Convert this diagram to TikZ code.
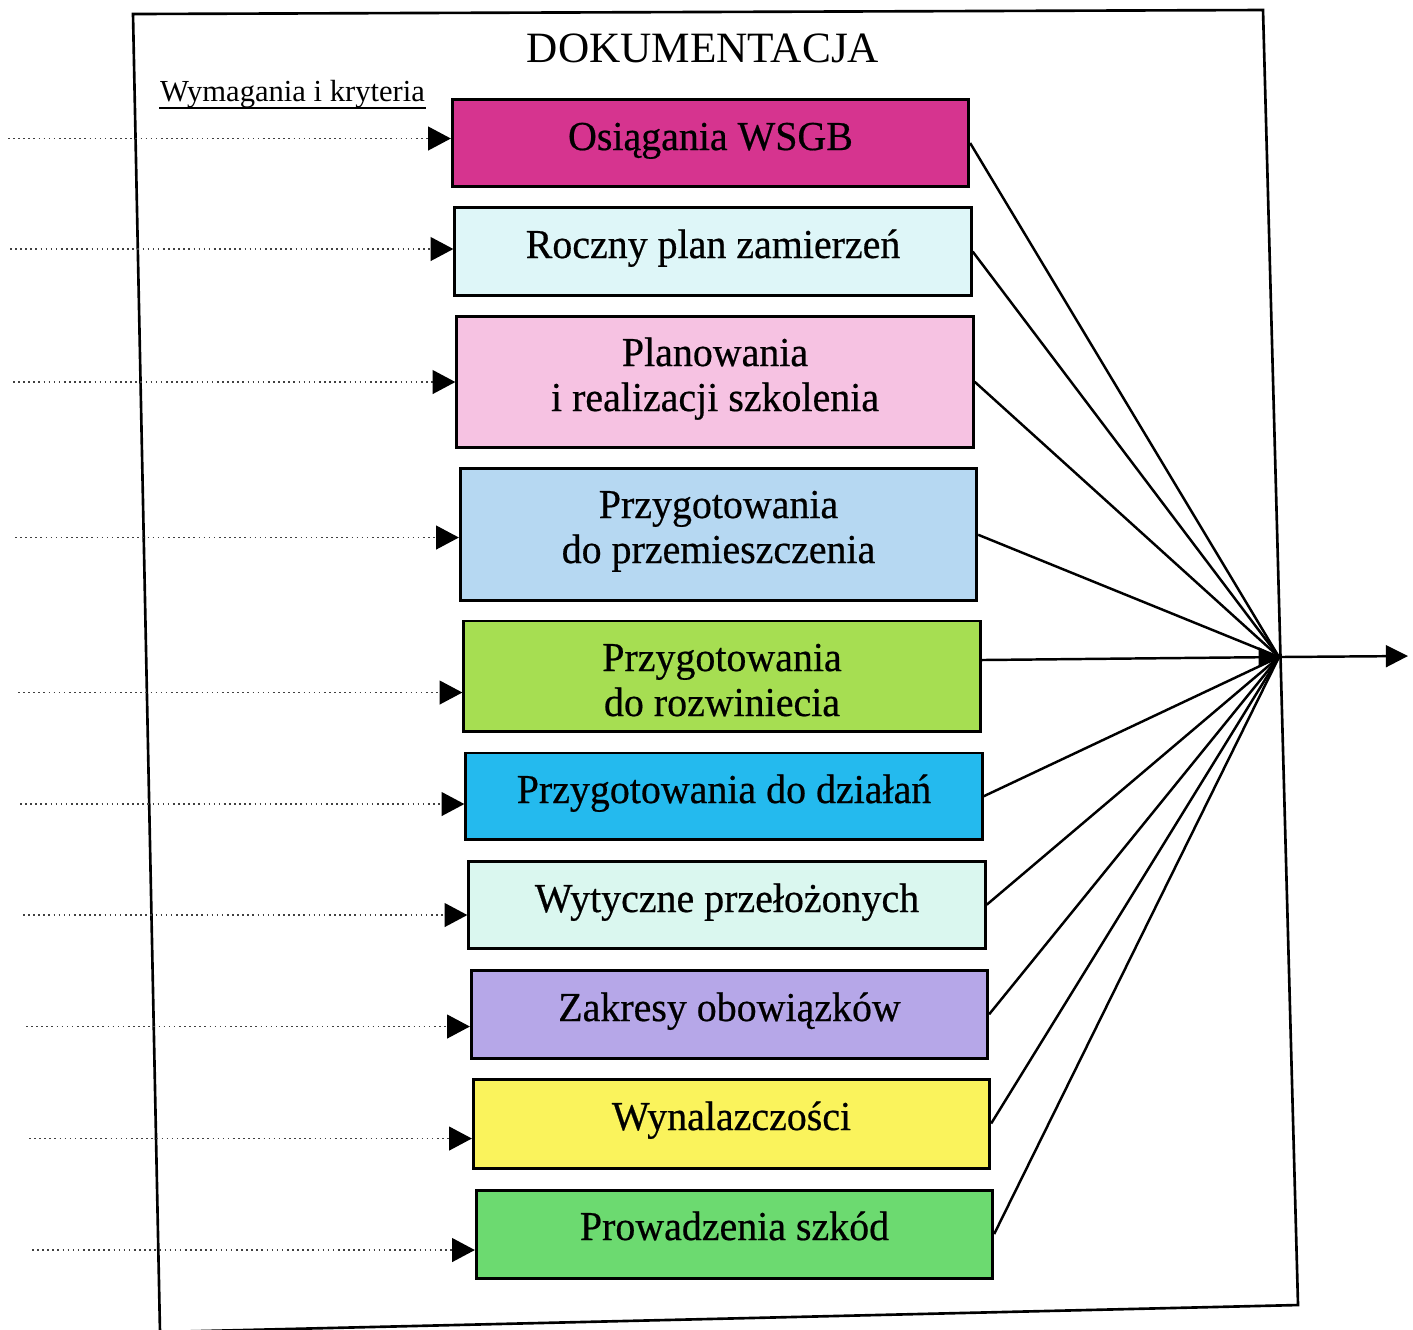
\documentclass[tikz,border=0pt]{standalone}
\usepackage{fontspec}
\setmainfont{Liberation Serif}
\newfontfamily\boxfont{Liberation Serif}[FakeBold=0.5,FakeStretch=0.97]
\usetikzlibrary{arrows.meta}
\definecolor{cA}{RGB}{214,52,143}
\definecolor{cB}{RGB}{222,246,248}
\definecolor{cC}{RGB}{246,194,226}
\definecolor{cD}{RGB}{182,216,242}
\definecolor{cE}{RGB}{166,222,82}
\definecolor{cF}{RGB}{36,186,238}
\definecolor{cG}{RGB}{218,247,239}
\definecolor{cH}{RGB}{182,167,232}
\definecolor{cI}{RGB}{250,243,92}
\definecolor{cJ}{RGB}{108,218,112}
\begin{document}
\begin{tikzpicture}[x=0.01cm,y=-0.01cm,
  box/.style={draw=black, line width=0.85pt, inner sep=0pt, minimum width=5.16cm},
  lbl/.style={font=\boxfont\fontsize{11.7}{13}\selectfont, anchor=base, inner sep=0pt},
  feed/.style={densely dotted, line width=0.45pt, draw=black!75,
    -{Triangle[length=6.5pt,width=6.8pt,color=black]}},
  conn/.style={line width=0.7pt},
  frame/.style={line width=0.75pt},
]
\useasboundingbox (0,0) rectangle (1413,1329);
\fill[white] (0,0) rectangle (1413,1329);

% frame
\draw[frame] (133,14) -- (1263,10) -- (1298,1305) -- (160,1332) -- (133,14) -- cycle;

% title and subtitle
\node[font=\fontsize{12.3}{14}\selectfont, anchor=base, inner sep=0pt] (title) at (703,62) {DOKUMENTACJA};
\node[font=\fontsize{8.7}{10}\selectfont, anchor=base, inner sep=0pt] (req) at (292.5,101) {Wymagania i kryteria};
\draw[line width=0.55pt] ([yshift=-2pt]req.base west) -- ([yshift=-2pt]req.base east);

% boxes
\node[box, fill=cA, minimum height=0.86cm]  (b1)  at (710.5,143)   {};
\node[box, fill=cB, minimum height=0.87cm]  (b2)  at (713,251.5)   {};
\node[box, fill=cC, minimum height=1.305cm] (b3)  at (715,381.75)  {};
\node[box, fill=cD, minimum height=1.315cm] (b4)  at (718.5,534.75){};
\node[box, fill=cE, minimum height=1.10cm]  (b5)  at (722,676)     {};
\node[box, fill=cF, minimum height=0.865cm] (b6)  at (724,796.25)  {};
\node[box, fill=cG, minimum height=0.875cm] (b7)  at (727,904.75)  {};
\node[box, fill=cH, minimum height=0.875cm] (b8)  at (729.5,1014.25){};
\node[box, fill=cI, minimum height=0.89cm]  (b9)  at (731.5,1123.5){};
\node[box, fill=cJ, minimum height=0.88cm]  (b10) at (734.5,1234)  {};

% labels
\node[lbl] (t1)  at (b1.center |- 0,150)   {Osiągania WSGB};
\node[lbl] (t2)  at (b2.center |- 0,258)   {Roczny plan zamierzeń};
\node[lbl] (t3a) at (b3.center |- 0,366)   {Planowania};
\node[lbl] (t3b) at (b3.center |- 0,411)   {i realizacji szkolenia};
\node[lbl] (t4a) at (b4.center |- 0,518)   {Przygotowania};
\node[lbl] (t4b) at (b4.center |- 0,563)   {do przemieszczenia};
\node[lbl] (t5a) at (b5.center |- 0,671)   {Przygotowania};
\node[lbl] (t5b) at (b5.center |- 0,716)   {do rozwiniecia};
\node[lbl] (t6)  at (b6.center |- 0,803)   {Przygotowania do działań};
\node[lbl] (t7)  at (b7.center |- 0,912)   {Wytyczne przełożonych};
\node[lbl] (t8)  at (b8.center |- 0,1021)  {Zakresy obowiązków};
\node[lbl] (t9)  at (b9.center |- 0,1130)  {Wynalazczości};
\node[lbl] (t10) at (b10.center |- 0,1240) {Prowadzenia szkód};

% incoming dotted feeds
\coordinate (l1)  at (8,138.5);
\coordinate (l2)  at (10,249);
\coordinate (l3)  at (13,382);
\coordinate (l4)  at (15,537.5);
\coordinate (l5)  at (18,692.5);
\coordinate (l6)  at (20,804);
\coordinate (l7)  at (23,915);
\coordinate (l8)  at (26,1026.5);
\coordinate (l9)  at (29,1138.5);
\coordinate (l10) at (32,1250);
\foreach \i in {1,...,10}{
  \draw[feed] (l\i) -- (l\i -| b\i.west);
}

% hub and output
\coordinate (hub) at (1279,657);
\coordinate (out) at (1408,656);
\foreach \i in {1,2,3,4,6,7,8,9,10}{
  \draw[conn] (b\i.east) -- (hub);
}
\draw[conn, -{Triangle[length=5.8pt,width=5.6pt]}] (b5.east |- 0,660) -- (hub);
\draw[conn, -{Triangle[length=6.3pt,width=6.2pt]}] (hub) -- (out);
\end{tikzpicture}
\end{document}
